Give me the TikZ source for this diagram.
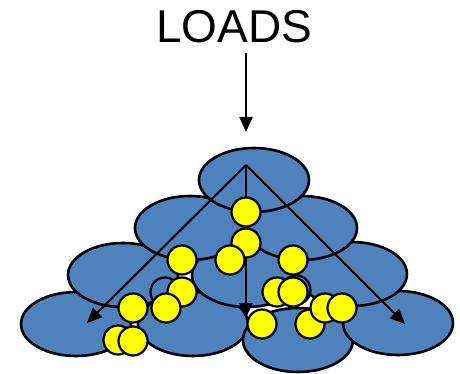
\documentclass[tikz,border=0pt]{standalone}
\usepackage{fontspec}
\setmainfont{Liberation Sans}
\usetikzlibrary{shapes.geometric,arrows.meta}
\definecolor{grainblue}{HTML}{4F81BD}
\definecolor{grainyellow}{HTML}{FFFF00}
\tikzset{
  cell/.style={ellipse, draw=black, fill=grainblue, line width=2.6pt,
    minimum width=110pt, minimum height=64pt, inner sep=0pt},
  ball/.style={circle, draw=black, fill=grainyellow, line width=2.2pt,
    minimum size=29pt, inner sep=0pt},
  ring/.style={circle, draw=black, fill=grainblue, line width=2.2pt,
    minimum size=29pt, inner sep=0pt},
  force/.style={draw=black, line width=2pt, -{Triangle[length=15pt,width=13pt]}},
}
\begin{document}
\begin{tikzpicture}[x=1pt,y=-1pt]
\useasboundingbox (0,0) rectangle (460,374);
\node[anchor=base, inner sep=0pt] (loads) at (234,43) {\fontsize{46}{50}\selectfont LOADS};
\coordinate (ls) at (246,53);
\coordinate (le) at (246,132);
\draw[force] (ls) -- (le);
% row 4
\node[cell] (e41) at (76,324) {};
\node[cell] (e42) at (193,324) {};
\node[cell] (e43) at (298,340) {};
\node[cell] (e44) at (398,323) {};
% row 3
\node[cell] (e31) at (123,275) {};
\node[cell] (e32) at (247,275) {};
\node[cell] (e33) at (352,274) {};
% row 2
\node[cell] (e21) at (190,228) {};
\node[cell] (e22) at (302,228) {};
% row 1
\node[cell] (e11) at (254,180) {};
% force paths
\coordinate (apex) at (246,165);
\coordinate (tl) at (87,323);
\coordinate (tm) at (246,318);
\coordinate (tr) at (405,324);
\draw[force] (apex) -- (tl);
\draw[force] (apex) -- (tm);
\draw[force] (apex) -- (tr);
% hidden grains
\node[ring] (r1) at (165,292) {};
\node[ring] (r2) at (296,290) {};
% loaded grains
\node[ball] (b1) at (246,212) {};
\node[ball] (b2) at (246,243) {};
\node[ball] (b3) at (230,260) {};
\node[ball] (b4) at (182,260) {};
\node[ball] (b5) at (182,292) {};
\node[ball] (b6) at (166,308) {};
\node[ball] (b7) at (133,308) {};
\node[ball] (b8) at (118,340) {};
\node[ball] (b9) at (133,341) {};
\node[ball] (b10) at (293,260) {};
\node[ball] (b11) at (277,292) {};
\node[ball] (b12) at (293,292) {};
\node[ball] (b13) at (262,324) {};
\node[ball] (b14) at (310,324) {};
\node[ball] (b15) at (325,308) {};
\node[ball] (b16) at (342,308) {};
\end{tikzpicture}
\end{document}
